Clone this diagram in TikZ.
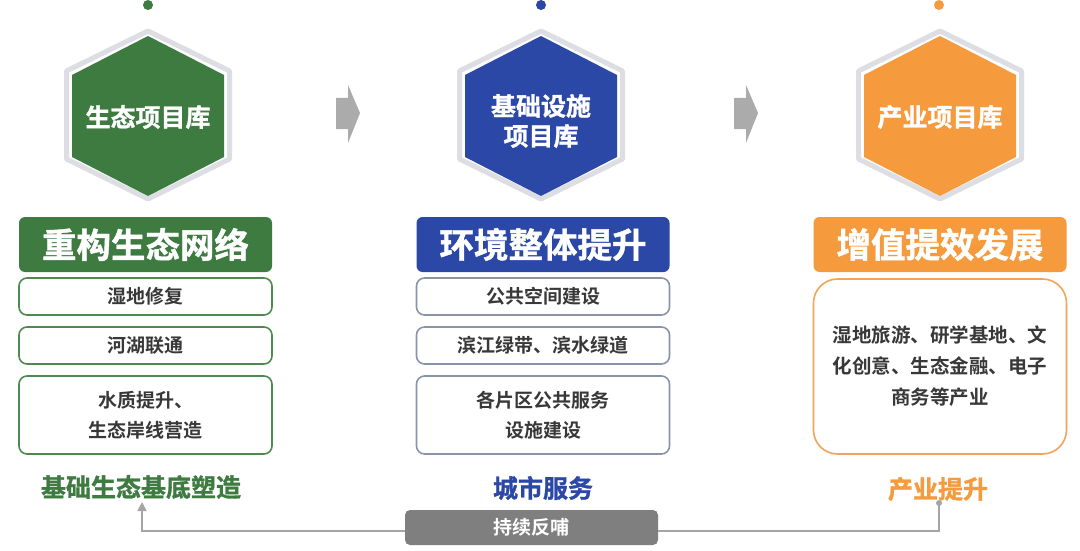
\documentclass[tikz,border=0pt]{standalone}
\usepackage{fontspec}
\setmainfont{Noto Sans CJK SC}[BoldFont={Noto Sans CJK SC Bold}]
\newfontfamily\heavyfont{Noto Sans CJK SC Bold}[FakeBold=1.2]
\usetikzlibrary{arrows.meta}
\definecolor{cgreen}{HTML}{3D7B40}
\definecolor{cblue}{HTML}{2B48A6}
\definecolor{corange}{HTML}{F59B3D}
\definecolor{cgreenline}{HTML}{4E8A50}
\definecolor{cblueline}{HTML}{8A94A8}
\definecolor{corangeline}{HTML}{F2A55A}
\definecolor{hexgrey}{HTML}{DCDEE3}
\definecolor{arrowgrey}{HTML}{ABABAB}
\definecolor{boxgrey}{HTML}{7F7F7F}
\definecolor{linegrey}{HTML}{A5A5A5}
\definecolor{txtdark}{HTML}{383838}
\tikzset{
  hexband/.style={draw=hexgrey, line width=5pt, line join=round},
  hextext/.style={text=white, font=\heavyfont\fontsize{25}{30}\selectfont, align=center, inner sep=0pt},
  header/.style={rounded corners=6pt, minimum width=253pt, minimum height=55pt, inner sep=0pt, text=white, font=\heavyfont\fontsize{34.5}{40}\selectfont},
  itembox/.style={draw, line width=1.6pt, rounded corners=8pt, minimum width=253pt, inner sep=0pt, text=txtdark, align=center, font=\bfseries\fontsize{19}{30}\selectfont},
  footer/.style={font=\heavyfont\fontsize{25}{30}\selectfont, inner sep=0pt},
  bigarrow/.style={fill=arrowgrey, draw=none},
  fbline/.style={draw=linegrey, line width=1.6pt},
  dot/.style={circle, minimum size=10pt, inner sep=0pt, draw=none}
}
\newcommand{\hexagon}[2]{%
  \draw[hexband] (#1,31) -- (#1+81.5,71) -- (#1+81.5,159) -- (#1,199) -- (#1-81.5,159) -- (#1-81.5,71) -- cycle;
  \fill[#2] (#1,36) -- (#1+76,75) -- (#1+76,157) -- (#1,196) -- (#1-76,157) -- (#1-76,75) -- cycle;
}
\begin{document}
\begin{tikzpicture}[x=1pt,y=-1pt]
\useasboundingbox[fill=white] (0,0) rectangle (1080,551);

% top dots
\node[dot, fill=cgreen] (d1) at (148,5) {};
\node[dot, fill=cblue] (d2) at (541,5) {};
\node[dot, fill=corange] (d3) at (939,5) {};

% hexagons
\hexagon{148}{cgreen}
\hexagon{541}{cblue}
\hexagon{940}{corange}
\node[hextext] (h1) at (148,117) {生态项目库};
\node[hextext] (h2) at (541,121) {基础设施\\项目库};
\node[hextext] (h3) at (940,117) {产业项目库};

% grey arrows between hexagons
\fill[bigarrow] (336,98) -- (348,98) -- (348,85) -- (360,113) -- (348,143) -- (348,129) -- (336,129) -- cycle;
\fill[bigarrow] (734,98) -- (746,98) -- (746,85) -- (758,113) -- (746,143) -- (746,129) -- (734,129) -- cycle;

% headers
\node[header, fill=cgreen] (t1) at (145.5,244.5) {重构生态网络};
\node[header, fill=cblue] (t2) at (543,244.5) {环境整体提升};
\node[header, fill=corange] (t3) at (940,244.5) {增值提效发展};

% column 1 items
\node[itembox, draw=cgreenline, minimum height=37pt] (a1) at (145.5,296.5) {湿地修复};
\node[itembox, draw=cgreenline, minimum height=37pt] (a2) at (145.5,345.5) {河湖联通};
\node[itembox, draw=cgreenline, minimum height=78pt] (a3) at (145.5,415) {水质提升、\\生态岸线营造};

% column 2 items
\node[itembox, draw=cblueline, minimum height=37pt] (b1) at (543,296.5) {公共空间建设};
\node[itembox, draw=cblueline, minimum height=37pt] (b2) at (543,345.5) {滨江绿带、滨水绿道};
\node[itembox, draw=cblueline, minimum height=78pt] (b3) at (543,415) {各片区公共服务\\设施建设};

% column 3 item
\node[itembox, draw=corangeline, rounded corners=24pt, minimum height=175pt, font=\bfseries\fontsize{19.5}{31}\selectfont] (c1) at (940,366.5) {湿地旅游、研学基地、文\\化创意、生态金融、电子\\商务等产业};

% footers
\node[footer, text=cgreen] (f1) at (141,487) {基础生态基底塑造};
\node[footer, text=cblue] (f2) at (543,488) {城市服务};
\node[footer, text=corange] (f3) at (938,489) {产业提升};

% feedback connector
\coordinate (fbstart) at (939,503);
\coordinate (fbtip) at (142,502);
\draw[fbline, -{Triangle[width=9pt,length=9pt]}] (fbstart) -- (939,531) -| (fbtip);
\fill[linegrey] (fbstart) circle (3pt);
\node[fill=boxgrey, rounded corners=5pt, minimum width=253pt, minimum height=35pt, inner sep=0pt, text=white, font=\bfseries\fontsize{19}{24}\selectfont] (fb) at (531.5,527.5) {持续反哺};
\end{tikzpicture}
\end{document}
